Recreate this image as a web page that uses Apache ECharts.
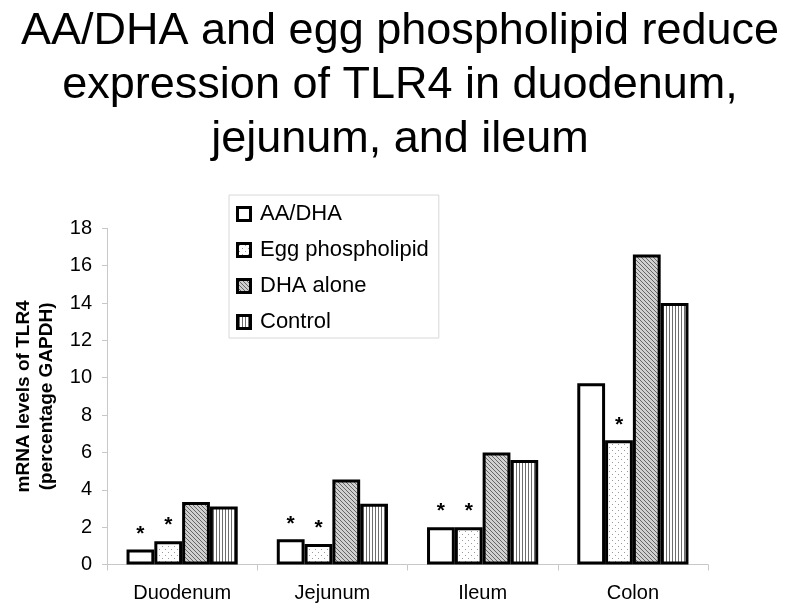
<!DOCTYPE html>
<html>
<head>
<meta charset="utf-8">
<script src="https://cdn.jsdelivr.net/npm/echarts@6/dist/echarts.min.js"></script>
<style>
html,body{margin:0;padding:0;background:#fff;}
#chart{width:800px;height:615px;}
</style>
</head>
<body>
<div id="chart"></div>
<script>
// ---- data ----
var categories = ['Duodenum', 'Jejunum', 'Ileum', 'Colon'];
var seriesNames = ['AA/DHA', 'Egg phospholipid', 'DHA alone', 'Control'];
var aaDha = [0.8, 1.35, 2.0, 9.7];
var eggPhospholipid = [1.25, 1.1, 2.0, 6.65];
var dhaAlone = [3.35, 4.55, 6.0, 16.6];
var control = [3.1, 3.25, 5.6, 14.0];
// significance markers (*)
var sigAaDha = [true, true, true, false];
var sigEgg = [true, true, true, true];
var yTicks = [0, 2, 4, 6, 8, 10, 12, 14, 16, 18];

var titleText = 'AA/DHA and egg phospholipid reduce\nexpression of TLR4 in duodenum,\njejunum, and ileum';
var yName = 'mRNA levels of TLR4\n(percentage GAPDH)';

// ---- patterns ----
function makeCanvas(w, h, draw) {
  var c = document.createElement('canvas');
  c.width = w; c.height = h;
  draw(c.getContext('2d'), w, h);
  return c;
}
function drawDots(ctx, w, h) {
  ctx.fillStyle = '#ffffff'; ctx.fillRect(0, 0, w, h);
  ctx.fillStyle = '#9a9a9a';
  for (var y = 0; y < h; y += 6) for (var x = 0; x < w; x += 6) {
    ctx.fillRect(x, y, 1, 1); ctx.fillRect(x + 3, y + 3, 1, 1);
  }
}
function drawDiag(ctx, w, h) {
  ctx.fillStyle = '#d0d0d0'; ctx.fillRect(0, 0, w, h);
  ctx.fillStyle = '#666666';
  for (var y = 0; y < h; y++) for (var x = 0; x < w; x++) {
    if (((x - y) % 4 + 4) % 4 === 0) ctx.fillRect(x, y, 1, 1);
  }
}
function drawVert(ctx, w, h) {
  ctx.fillStyle = '#ffffff'; ctx.fillRect(0, 0, w, h);
  ctx.fillStyle = '#6e6e6e';
  for (var x = 0; x < w; x += 3) ctx.fillRect(x, 0, 1, h);
}
function drawWhite(ctx, w, h) {
  ctx.fillStyle = '#ffffff'; ctx.fillRect(0, 0, w, h);
}
var drawers = [drawWhite, drawDots, drawDiag, drawVert];
var tileSizes = [[2, 2], [6, 6], [4, 4], [3, 2]];

var fills = drawers.map(function (fn, i) {
  return { image: makeCanvas(tileSizes[i][0], tileSizes[i][1], fn), repeat: 'repeat' };
});

// legend icons: pattern square with a thick black frame
var ICON = 16, FRAME = 3;
var legendIcons = drawers.map(function (fn) {
  var c = makeCanvas(ICON, ICON, function (ctx, w, h) {
    ctx.fillStyle = '#000'; ctx.fillRect(0, 0, w, h);
    var inner = makeCanvas(w - 2 * FRAME, h - 2 * FRAME, fn);
    ctx.drawImage(inner, FRAME, FRAME);
  });
  return 'image://' + c.toDataURL();
});

var FONT = '"Liberation Sans", Arial, Helvetica, sans-serif';

function withStars(values, flags) {
  return values.map(function (v, i) {
    if (flags && flags[i]) {
      return { value: v, label: { show: true, formatter: '*' } };
    }
    return v;
  });
}

var seriesData = [
  withStars(aaDha, sigAaDha),
  withStars(eggPhospholipid, sigEgg),
  dhaAlone,
  control
];

var series = seriesData.map(function (d, i) {
  return {
    name: seriesNames[i],
    type: 'bar',
    data: d,
    barGap: 0,
    barCategoryGap: '26%',
    itemStyle: { color: fills[i], borderColor: '#000', borderWidth: 3 },
    label: {
      show: false,
      position: 'top',
      distance: 5,
      color: '#000',
      fontSize: 21,
      fontWeight: 'bold',
      fontFamily: FONT
    },
    emphasis: { disabled: true },
    animation: false
  };
});

var chart = echarts.init(document.getElementById('chart'), null, { renderer: 'canvas' });
chart.setOption({
  backgroundColor: '#ffffff',
  animation: false,
  title: {
    text: titleText,
    left: 'center',
    top: 0,
    textStyle: { fontSize: 45, lineHeight: 54, fontWeight: 'normal', color: '#000', fontFamily: FONT }
  },
  legend: {
    orient: 'vertical',
    left: 229,
    top: 195,
    data: seriesNames.map(function (n, i) { return { name: n, icon: legendIcons[i] }; }),
    itemWidth: ICON,
    itemHeight: ICON,
    itemGap: 14,
    padding: [8, 10, 5, 7],
    borderColor: '#d8d8d8',
    borderWidth: 1,
    backgroundColor: '#fff',
    selectedMode: false,
    textStyle: { fontSize: 22, lineHeight: 22, color: '#000', fontFamily: FONT, padding: [0, 0, 0, 3] }
  },
  grid: { left: 107, right: 92, top: 228.3, bottom: 50.5, containLabel: false },
  xAxis: {
    type: 'category',
    data: categories,
    axisLine: { lineStyle: { color: '#c8c8c8', width: 1 } },
    axisTick: { show: true, length: 6, lineStyle: { color: '#c8c8c8' } },
    axisLabel: { color: '#000', fontSize: 20, margin: 19, fontFamily: FONT },
    splitLine: { show: false }
  },
  yAxis: {
    type: 'value',
    min: yTicks[0],
    max: yTicks[yTicks.length - 1],
    interval: 2,
    name: yName,
    nameLocation: 'middle',
    nameRotate: 90,
    nameGap: 49,
    nameTextStyle: { fontSize: 19, fontWeight: 'bold', lineHeight: 23, color: '#000', fontFamily: FONT },
    axisLine: { show: true, lineStyle: { color: '#c8c8c8', width: 1 } },
    axisTick: { show: true, length: 5, lineStyle: { color: '#c8c8c8' } },
    axisLabel: { color: '#000', fontSize: 20, margin: 15, fontFamily: FONT },
    splitLine: { show: false }
  },
  series: series
});
</script>
</body>
</html>
